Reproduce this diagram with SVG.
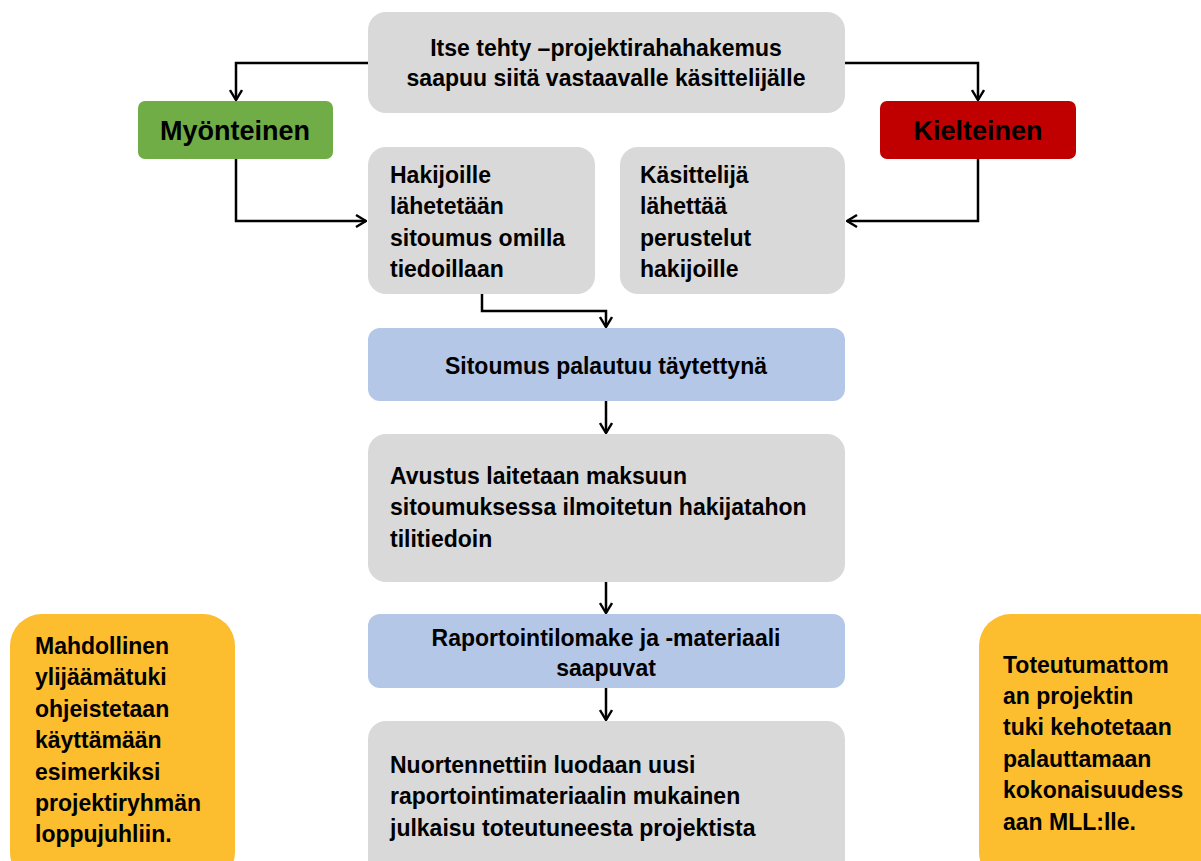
<svg xmlns="http://www.w3.org/2000/svg" width="1201" height="861" viewBox="0 0 1201 861">
<defs>
<marker id="arr" markerUnits="userSpaceOnUse" viewBox="0 0 12 14" refX="11" refY="7" markerWidth="12" markerHeight="14" orient="auto">
<path d="M1,1 L11,7 L1,13" fill="none" stroke="#000" stroke-width="2.4"/>
</marker>
</defs>
<style>
.gray{fill:#d9d9d9}
.blue{fill:#b4c7e7}
.yel{fill:#fcbd2e}
text{font-family:"Liberation Sans",Arial,sans-serif;font-weight:bold;font-size:23px;fill:#000}
.c{text-anchor:middle}
.big{font-size:27px}
.conn{fill:none;stroke:#000;stroke-width:2.5;marker-end:url(#arr)}
</style>
<rect width="1201" height="861" fill="#fff"/>
<g id="connectors">
<path class="conn" d="M368,63 H236 V100"/>
<path class="conn" d="M845,63 H978 V100"/>
<path class="conn" d="M236,159 V221 H366"/>
<path class="conn" d="M978,159 V221 H847"/>
<path class="conn" d="M482,294 V311 H606 V327"/>
<path class="conn" d="M606,401 V433"/>
<path class="conn" d="M606,582 V613"/>
<path class="conn" d="M606,688 V720"/>
</g>
<g id="start">
<rect class="gray" x="368" y="12" width="477" height="101" rx="18"/>
<text class="c" x="606" y="56">Itse tehty –projektirahahakemus</text>
<text class="c" x="606" y="86">saapuu siitä vastaavalle käsittelijälle</text>
</g>
<g id="myonteinen">
<rect x="138" y="101" width="195" height="58" rx="7" fill="#70ad47"/>
<text class="c big" x="235" y="140">Myönteinen</text>
</g>
<g id="kielteinen">
<rect x="880" y="101" width="196" height="58" rx="7" fill="#c00000"/>
<text class="c big" x="978" y="140">Kielteinen</text>
</g>
<g id="hakijoille">
<rect class="gray" x="368" y="147" width="227" height="147" rx="18"/>
<text x="390" y="183">Hakijoille</text>
<text x="390" y="214">lähetetään</text>
<text x="390" y="246">sitoumus omilla</text>
<text x="390" y="277">tiedoillaan</text>
</g>
<g id="kasittelija">
<rect class="gray" x="620" y="147" width="225" height="147" rx="18"/>
<text x="640" y="183">Käsittelijä</text>
<text x="640" y="214">lähettää</text>
<text x="640" y="246">perustelut</text>
<text x="640" y="277">hakijoille</text>
</g>
<g id="sitoumus">
<rect class="blue" x="368" y="328" width="477" height="73" rx="12"/>
<text class="c" x="606" y="374">Sitoumus palautuu täytettynä</text>
</g>
<g id="avustus">
<rect class="gray" x="368" y="434" width="477" height="148" rx="18"/>
<text x="390" y="484">Avustus laitetaan maksuun</text>
<text x="390" y="515">sitoumuksessa ilmoitetun hakijatahon</text>
<text x="390" y="547">tilitiedoin</text>
</g>
<g id="raportointi">
<rect class="blue" x="368" y="614" width="477" height="74" rx="12"/>
<text class="c" x="606" y="646">Raportointilomake ja -materiaali</text>
<text class="c" x="606" y="676">saapuvat</text>
</g>
<g id="nuortennetti">
<rect class="gray" x="368" y="721" width="477" height="160" rx="18"/>
<text x="390" y="773">Nuortennettiin luodaan uusi</text>
<text x="390" y="804">raportointimateriaalin mukainen</text>
<text x="390" y="836">julkaisu toteutuneesta projektista</text>
</g>
<g id="ylijaama">
<rect class="yel" x="10" y="614" width="225" height="270" rx="32"/>
<text x="35" y="654">Mahdollinen</text>
<text x="35" y="685">ylijäämätuki</text>
<text x="35" y="717">ohjeistetaan</text>
<text x="35" y="748">käyttämään</text>
<text x="35" y="780">esimerkiksi</text>
<text x="35" y="811">projektiryhmän</text>
<text x="35" y="842">loppujuhliin.</text>
</g>
<g id="toteutumaton">
<rect class="yel" x="979" y="614" width="250" height="270" rx="32"/>
<text x="1003" y="673">Toteutumattom</text>
<text x="1003" y="704">an projektin</text>
<text x="1003" y="735">tuki kehotetaan</text>
<text x="1003" y="767">palauttamaan</text>
<text x="1003" y="798">kokonaisuudess</text>
<text x="1003" y="830">aan MLL:lle.</text>
</g>
</svg>
